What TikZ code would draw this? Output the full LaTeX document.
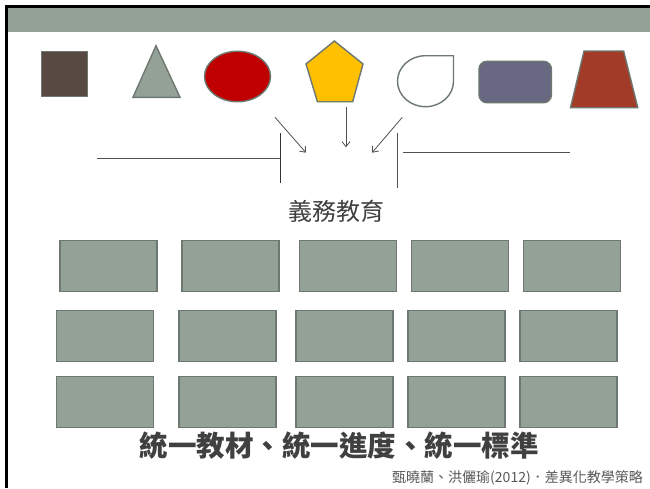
\documentclass[tikz,border=0pt]{standalone}
\usepackage{fontspec}
\setmainfont{Noto Sans CJK TC}
\usetikzlibrary{arrows.meta,shapes.geometric}
\definecolor{band}{RGB}{147,161,151}
\definecolor{outl}{RGB}{108,120,112}
\definecolor{sqbrown}{RGB}{88,74,67}
\definecolor{ellred}{RGB}{192,0,0}
\definecolor{pentyel}{RGB}{255,192,0}
\definecolor{slate}{RGB}{104,104,130}
\definecolor{trapred}{RGB}{162,59,39}
\definecolor{txt}{RGB}{64,64,64}
\definecolor{cite}{RGB}{89,89,89}
\definecolor{ln}{RGB}{80,80,80}
\tikzset{
  shp/.style={draw=outl,line width=1.4pt},
  gbox/.style={draw=outl,line width=1.4pt,fill=band,minimum width=97,minimum height=51,inner sep=0pt},
  arr/.style={draw=ln,line width=0.8pt,-{Straight Barb[length=5pt,width=8pt]}},
  plain/.style={draw=ln,line width=0.8pt}
}
\begin{document}
\begin{tikzpicture}[x=1pt,y=-1pt]
\useasboundingbox (0,0) rectangle (650,488);
\fill[white] (0,0) rectangle (650,488);
% header band and frame
\fill[band] (8,8.3) rectangle (650,31.7);
\draw[black,line width=3pt] (6.5,488) -- (6.5,6.5) -- (650,6.5);
% top shapes
\node[shp,fill=sqbrown,minimum width=46,minimum height=45.5,inner sep=0pt] (sq) at (64.5,74) {};
\draw[shp,fill=band] (156,45.7) -- (180,97.3) -- (133,97.3) -- cycle;
\node[shp,fill=ellred,ellipse,minimum width=66,minimum height=50.5,inner sep=0pt] (ell) at (237.5,76.5) {};
\draw[shp,fill=pentyel] (334.4,41) -- (363,64) -- (352.7,101.7) -- (317.4,101.7) -- (306,64) -- cycle;
\draw[shp,fill=white] (425.5,55.7) arc[start angle=-90,end angle=-360,x radius=28,y radius=25.5] -- (453.5,55.7) -- cycle;
\node[shp,fill=slate,rounded corners=8pt,minimum width=72.5,minimum height=41.5,inner sep=0pt] (rr) at (515.2,82) {};
\draw[shp,fill=trapred] (584,51) -- (623.6,51) -- (637.8,107.7) -- (570.5,107.7) -- cycle;
% arrows and lines
\coordinate (a1s) at (275,117.3);
\coordinate (a1e) at (306,152.7);
\coordinate (a2s) at (346,107.3);
\coordinate (a2e) at (346,147.3);
\coordinate (a3s) at (402.3,117.3);
\coordinate (a3e) at (372,152.7);
\draw[arr] (a1s) -- (a1e);
\draw[arr] (a2s) -- (a2e);
\draw[arr] (a3s) -- (a3e);
\coordinate (lh1) at (97.3,158.3);
\coordinate (lh2) at (280,158.3);
\coordinate (lv1) at (280,133.3);
\coordinate (lv2) at (280,183.3);
\coordinate (rv1) at (397,133.3);
\coordinate (rv2) at (397,188.3);
\coordinate (rh1) at (402.7,152.7);
\coordinate (rh2) at (570,152.7);
\draw[plain] (lh1) -- (lh2);
\draw[draw=black!80,line width=0.9pt] (lv1) -- (lv2);
\draw[plain] (rv1) -- (rv2);
\draw[plain] (rh1) -- (rh2);
% label
\node[text=txt,font=\fontsize{24}{28}\selectfont,inner sep=0pt] (yw) at (336.7,211) {義務教育};
% boxes
\foreach \x [count=\i] in {108.5,230.5,347.75,459.75,572}
  \node[gbox] (b1\i) at (\x,266.2) {};
\foreach \x [count=\i] in {105.2,227.35,344.4,456.45,568.45}{
  \node[gbox] (b2\i) at (\x,336) {};
  \node[gbox] (b3\i) at (\x,402.2) {};
}
% title and citation
\node[text=txt,font=\fontsize{28.5}{32}\selectfont\bfseries,inner sep=0pt] (title) at (339,446) {統一教材、統一進度、統一標準};
\node[text=cite,font=\fontsize{14}{16}\selectfont,inner sep=0pt] (cit) at (517.5,478) {甄曉蘭、洪儷瑜(2012)．差異化教學策略};
\end{tikzpicture}
\end{document}
